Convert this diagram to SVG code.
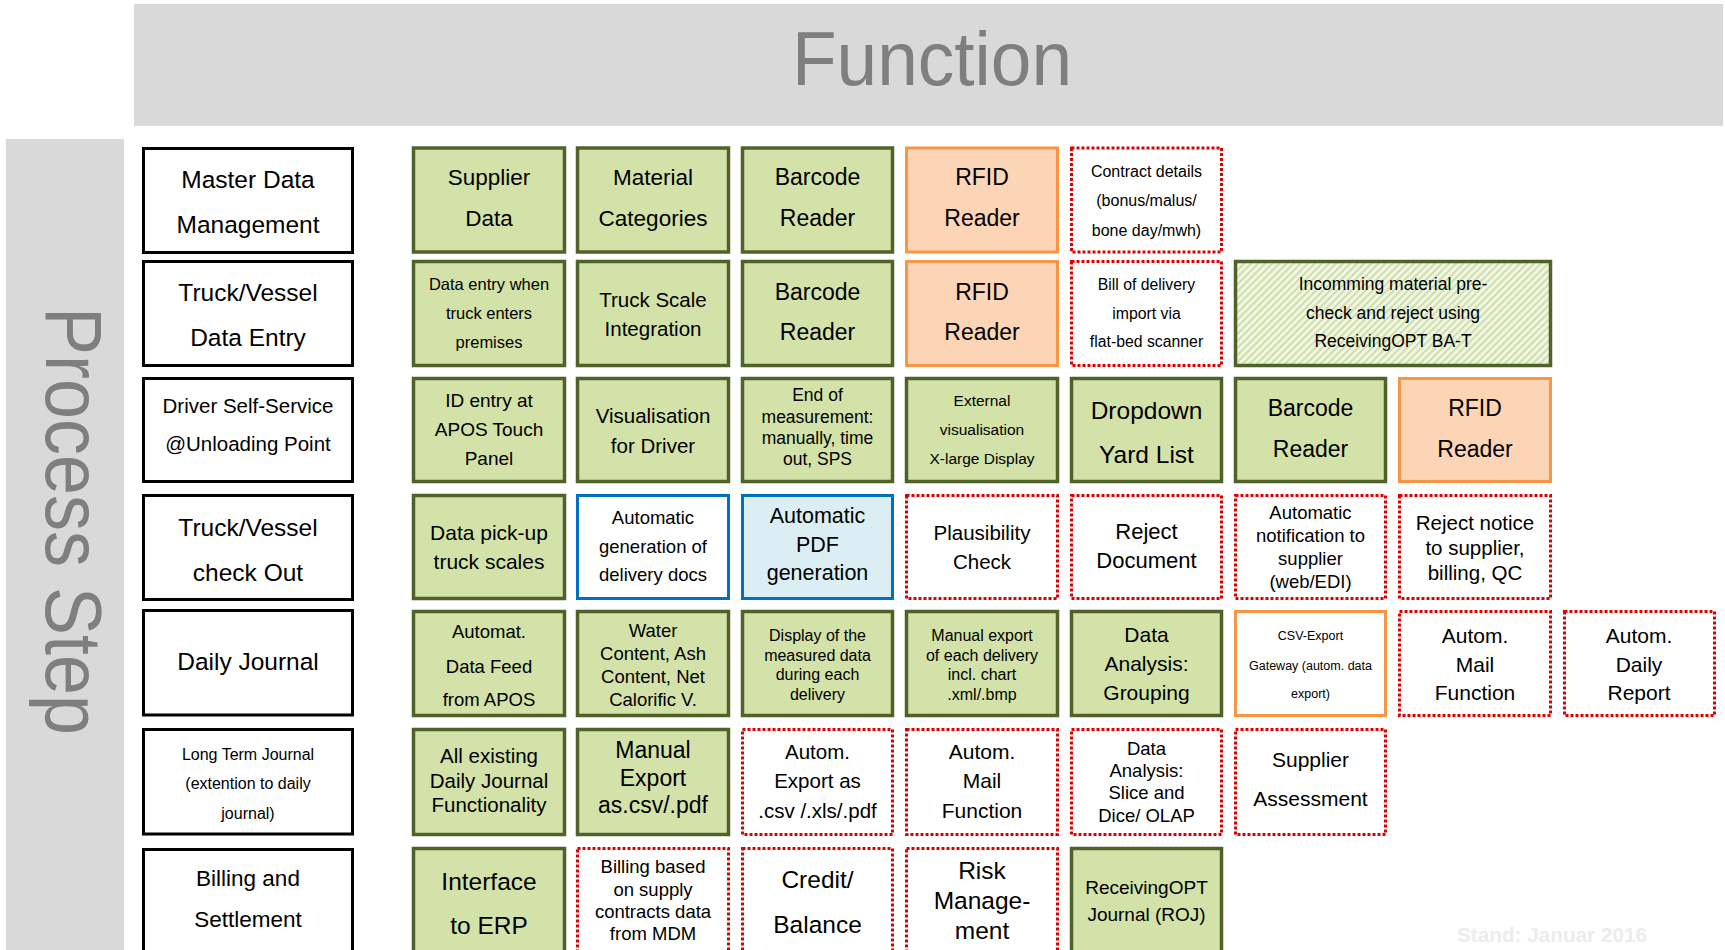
<svg xmlns="http://www.w3.org/2000/svg" width="1725" height="950" viewBox="0 0 1725 950">
<style>
.t{font-family:"Liberation Sans",Arial,sans-serif;text-anchor:middle;dominant-baseline:central;fill:#000}
.prc{fill:#fff;stroke:#000;stroke-width:3}
.grn{fill:#d3e2a9;stroke:#4f6228;stroke-width:3.5}
.org{fill:#fbd5b5;stroke:#f79646;stroke-width:3}
.orw{fill:#fff;stroke:#f79646;stroke-width:3}
.red{fill:#fff;stroke:#dc0000;stroke-width:3;stroke-dasharray:3 2}
.blw{fill:#fff;stroke:#0070c0;stroke-width:3}
.blu{fill:#daeef3;stroke:#0070c0;stroke-width:3}
.hat{fill:url(#hatch);stroke:#4f6228;stroke-width:3.5}
</style>
<defs>
<pattern id="hatch" width="5" height="5" patternUnits="userSpaceOnUse" patternTransform="rotate(45)">
<rect width="5" height="5" fill="#f1f6e2"/>
<line x1="1" y1="0" x2="1" y2="5" stroke="#c6d89f" stroke-width="1.6"/>
</pattern>
</defs>
<rect width="1725" height="950" fill="#fff"/>
<g id="header">
<rect x="134" y="4" width="1589" height="122" fill="#d9d9d9"/>
<text x="932" y="85" font-family="Liberation Sans, Arial, sans-serif" font-size="76" fill="#7f7f7f" text-anchor="middle" textLength="280" lengthAdjust="spacingAndGlyphs">Function</text>
</g>
<g id="sidebar">
<rect x="6" y="139" width="118" height="811" fill="#d9d9d9"/>
<text transform="translate(46,521) rotate(90)" font-family="Liberation Sans, Arial, sans-serif" font-size="80" fill="#7f7f7f" text-anchor="middle" textLength="428" lengthAdjust="spacingAndGlyphs">Process Step</text>
</g>

<g id="process-steps">
<g id="p1"><rect class="prc" x="143.5" y="148.5" width="209" height="104"/><text class="t" font-size="24.5"><tspan x="248" y="179">Master Data</tspan><tspan x="248" y="224">Management</tspan></text></g>
<g id="p2"><rect class="prc" x="143.5" y="261.5" width="209" height="104"/><text class="t" font-size="24.5"><tspan x="248" y="291.5">Truck/Vessel</tspan><tspan x="248" y="336.5">Data Entry</tspan></text></g>
<g id="p3"><rect class="prc" x="143.5" y="378.5" width="209" height="103"/><text class="t" font-size="20.5"><tspan x="248" y="405">Driver Self-Service</tspan><tspan x="248" y="443">@Unloading Point</tspan></text></g>
<g id="p4"><rect class="prc" x="143.5" y="495.5" width="209" height="104"/><text class="t" font-size="24.5"><tspan x="248" y="527">Truck/Vessel</tspan><tspan x="248" y="572">check Out</tspan></text></g>
<g id="p5"><rect class="prc" x="143.5" y="610.5" width="209" height="104.5"/><text class="t" font-size="24.5"><tspan x="248" y="661">Daily Journal</tspan></text></g>
<g id="p6"><rect class="prc" x="143.5" y="729.5" width="209" height="104.5"/><text class="t" font-size="16"><tspan x="248" y="753.5">Long Term Journal</tspan><tspan x="248" y="783">(extention to daily</tspan><tspan x="248" y="812.5">journal)</tspan></text></g>
<g id="p7"><rect class="prc" x="143.5" y="849.5" width="209" height="106"/><text class="t" font-size="22.5"><tspan x="248" y="878">Billing and</tspan><tspan x="248" y="918.5">Settlement</tspan></text></g>
</g>

<g id="functions">
<!-- Row 1 -->
<g id="r1c1"><rect class="grn" x="413.5" y="148" width="151" height="104"/><text class="t" font-size="22.5"><tspan x="489" y="177">Supplier</tspan><tspan x="489" y="218">Data</tspan></text></g>
<g id="r1c2"><rect class="grn" x="577.5" y="148" width="151" height="104"/><text class="t" font-size="22.5"><tspan x="653" y="177">Material</tspan><tspan x="653" y="218">Categories</tspan></text></g>
<g id="r1c3"><rect class="grn" x="742.5" y="148" width="150" height="104"/><text class="t" font-size="23"><tspan x="817.5" y="177">Barcode</tspan><tspan x="817.5" y="218">Reader</tspan></text></g>
<g id="r1c4"><rect class="org" x="906.5" y="148" width="151" height="104"/><text class="t" font-size="23"><tspan x="982" y="177">RFID</tspan><tspan x="982" y="218">Reader</tspan></text></g>
<g id="r1c5"><rect class="red" x="1071.5" y="148" width="150" height="104"/><text class="t" font-size="16"><tspan x="1146.5" y="170.5">Contract details</tspan><tspan x="1146.5" y="200">(bonus/malus/</tspan><tspan x="1146.5" y="229.5">bone day/mwh)</tspan></text></g>

<!-- Row 2 -->
<g id="r2c1"><rect class="grn" x="413.5" y="261.5" width="151" height="104"/><text class="t" font-size="16.5"><tspan x="489" y="284">Data entry when</tspan><tspan x="489" y="313">truck enters</tspan><tspan x="489" y="342">premises</tspan></text></g>
<g id="r2c2"><rect class="grn" x="577.5" y="261.5" width="151" height="104"/><text class="t" font-size="20.5"><tspan x="653" y="299">Truck Scale</tspan><tspan x="653" y="328">Integration</tspan></text></g>
<g id="r2c3"><rect class="grn" x="742.5" y="261.5" width="150" height="104"/><text class="t" font-size="23"><tspan x="817.5" y="291.5">Barcode</tspan><tspan x="817.5" y="332">Reader</tspan></text></g>
<g id="r2c4"><rect class="org" x="906.5" y="261.5" width="151" height="104"/><text class="t" font-size="23"><tspan x="982" y="291.5">RFID</tspan><tspan x="982" y="332">Reader</tspan></text></g>
<g id="r2c5"><rect class="red" x="1071.5" y="261.5" width="150" height="104"/><text class="t" font-size="15.8"><tspan x="1146.5" y="284">Bill of delivery</tspan><tspan x="1146.5" y="312.5">import via</tspan><tspan x="1146.5" y="341">flat-bed scanner</tspan></text></g>
<g id="r2c6"><rect class="hat" x="1235.5" y="261.5" width="315" height="104"/><text class="t" font-size="17.5"><tspan x="1393" y="284">Incomming material pre-</tspan><tspan x="1393" y="312.5">check and reject using</tspan><tspan x="1393" y="341">ReceivingOPT BA-T</tspan></text></g>

<!-- Row 3 -->
<g id="r3c1"><rect class="grn" x="413.5" y="378.5" width="151" height="103"/><text class="t" font-size="19"><tspan x="489" y="400">ID entry at</tspan><tspan x="489" y="429">APOS Touch</tspan><tspan x="489" y="457.5">Panel</tspan></text></g>
<g id="r3c2"><rect class="grn" x="577.5" y="378.5" width="151" height="103"/><text class="t" font-size="20.5"><tspan x="653" y="415">Visualisation</tspan><tspan x="653" y="444.5">for Driver</tspan></text></g>
<g id="r3c3"><rect class="grn" x="742.5" y="378.5" width="150" height="103"/><text class="t" font-size="17.5"><tspan x="817.5" y="395">End of</tspan><tspan x="817.5" y="416.5">measurement:</tspan><tspan x="817.5" y="438">manually, time</tspan><tspan x="817.5" y="459">out, SPS</tspan></text></g>
<g id="r3c4"><rect class="grn" x="906.5" y="378.5" width="151" height="103"/><text class="t" font-size="15.5"><tspan x="982" y="400">External</tspan><tspan x="982" y="429">visualisation</tspan><tspan x="982" y="457.5">X-large Display</tspan></text></g>
<g id="r3c5"><rect class="grn" x="1071.5" y="378.5" width="150" height="103"/><text class="t" font-size="24.5"><tspan x="1146.5" y="410">Dropdown</tspan><tspan x="1146.5" y="454">Yard List</tspan></text></g>
<g id="r3c6"><rect class="grn" x="1235.5" y="378.5" width="150" height="103"/><text class="t" font-size="23"><tspan x="1310.5" y="408">Barcode</tspan><tspan x="1310.5" y="449">Reader</tspan></text></g>
<g id="r3c7"><rect class="org" x="1399.5" y="378.5" width="151" height="103"/><text class="t" font-size="23"><tspan x="1475" y="408">RFID</tspan><tspan x="1475" y="449">Reader</tspan></text></g>

<!-- Row 4 -->
<g id="r4c1"><rect class="grn" x="413.5" y="495.5" width="151" height="103"/><text class="t" font-size="21"><tspan x="489" y="532">Data pick-up</tspan><tspan x="489" y="561">truck scales</tspan></text></g>
<g id="r4c2"><rect class="blw" x="577.5" y="495.5" width="151" height="103"/><text class="t" font-size="18.5"><tspan x="653" y="517">Automatic</tspan><tspan x="653" y="545.5">generation of</tspan><tspan x="653" y="574">delivery docs</tspan></text></g>
<g id="r4c3"><rect class="blu" x="742.5" y="495.5" width="150" height="103"/><text class="t" font-size="21.5"><tspan x="817.5" y="516">Automatic</tspan><tspan x="817.5" y="544.5">PDF</tspan><tspan x="817.5" y="573">generation</tspan></text></g>
<g id="r4c4"><rect class="red" x="906.5" y="495.5" width="151" height="103"/><text class="t" font-size="20.5"><tspan x="982" y="532">Plausibility</tspan><tspan x="982" y="561">Check</tspan></text></g>
<g id="r4c5"><rect class="red" x="1071.5" y="495.5" width="150" height="103"/><text class="t" font-size="22"><tspan x="1146.5" y="531">Reject</tspan><tspan x="1146.5" y="560">Document</tspan></text></g>
<g id="r4c6"><rect class="red" x="1235.5" y="495.5" width="150" height="103"/><text class="t" font-size="18.5"><tspan x="1310.5" y="511.5">Automatic</tspan><tspan x="1310.5" y="534.5">notification to</tspan><tspan x="1310.5" y="557.5">supplier</tspan><tspan x="1310.5" y="580.5">(web/EDI)</tspan></text></g>
<g id="r4c7"><rect class="red" x="1399.5" y="495.5" width="151" height="103"/><text class="t" font-size="20.5"><tspan x="1475" y="521.5">Reject notice</tspan><tspan x="1475" y="546.5">to supplier,</tspan><tspan x="1475" y="572">billing, QC</tspan></text></g>

<!-- Row 5 -->
<g id="r5c1"><rect class="grn" x="413.5" y="611.5" width="151" height="104"/><text class="t" font-size="18.5"><tspan x="489" y="631">Automat.</tspan><tspan x="489" y="665.5">Data Feed</tspan><tspan x="489" y="698.5">from APOS</tspan></text></g>
<g id="r5c2"><rect class="grn" x="577.5" y="611.5" width="151" height="104"/><text class="t" font-size="18.5"><tspan x="653" y="630">Water</tspan><tspan x="653" y="653">Content, Ash</tspan><tspan x="653" y="675.5">Content, Net</tspan><tspan x="653" y="698.5">Calorific V.</tspan></text></g>
<g id="r5c3"><rect class="grn" x="742.5" y="611.5" width="150" height="104"/><text class="t" font-size="16"><tspan x="817.5" y="634.5">Display of the</tspan><tspan x="817.5" y="654.5">measured data</tspan><tspan x="817.5" y="674">during each</tspan><tspan x="817.5" y="694">delivery</tspan></text></g>
<g id="r5c4"><rect class="grn" x="906.5" y="611.5" width="151" height="104"/><text class="t" font-size="16"><tspan x="982" y="634.5">Manual export</tspan><tspan x="982" y="654.5">of each delivery</tspan><tspan x="982" y="674">incl. chart</tspan><tspan x="982" y="694">.xml/.bmp</tspan></text></g>
<g id="r5c5"><rect class="grn" x="1071.5" y="611.5" width="150" height="104"/><text class="t" font-size="21"><tspan x="1146.5" y="633.5">Data</tspan><tspan x="1146.5" y="662.5">Analysis:</tspan><tspan x="1146.5" y="692">Grouping</tspan></text></g>
<g id="r5c6"><rect class="orw" x="1235.5" y="611.5" width="150" height="104"/><text class="t" font-size="12.5"><tspan x="1310.5" y="636">CSV-Export</tspan><tspan x="1310.5" y="665.5">Gateway (autom. data</tspan><tspan x="1310.5" y="694">export)</tspan></text></g>
<g id="r5c7"><rect class="red" x="1399.5" y="611.5" width="151" height="104"/><text class="t" font-size="21"><tspan x="1475" y="634.5">Autom.</tspan><tspan x="1475" y="663.5">Mail</tspan><tspan x="1475" y="692">Function</tspan></text></g>
<g id="r5c8"><rect class="red" x="1564.5" y="611.5" width="150" height="104"/><text class="t" font-size="21"><tspan x="1639" y="634.5">Autom.</tspan><tspan x="1639" y="663.5">Daily</tspan><tspan x="1639" y="692">Report</tspan></text></g>

<!-- Row 6 -->
<g id="r6c1"><rect class="grn" x="413.5" y="729.5" width="151" height="105"/><text class="t" font-size="20.5"><tspan x="489" y="754.5">All existing</tspan><tspan x="489" y="780">Daily Journal</tspan><tspan x="489" y="804">Functionality</tspan></text></g>
<g id="r6c2"><rect class="grn" x="577.5" y="729.5" width="151" height="105"/><text class="t" font-size="23"><tspan x="653" y="750">Manual</tspan><tspan x="653" y="777.5">Export</tspan><tspan x="653" y="805">as.csv/.pdf</tspan></text></g>
<g id="r6c3"><rect class="red" x="742.5" y="729.5" width="150" height="105"/><text class="t" font-size="20.5"><tspan x="817.5" y="751">Autom.</tspan><tspan x="817.5" y="780">Export as</tspan><tspan x="817.5" y="809.5">.csv /.xls/.pdf</tspan></text></g>
<g id="r6c4"><rect class="red" x="906.5" y="729.5" width="151" height="105"/><text class="t" font-size="21"><tspan x="982" y="751">Autom.</tspan><tspan x="982" y="780">Mail</tspan><tspan x="982" y="809.5">Function</tspan></text></g>
<g id="r6c5"><rect class="red" x="1071.5" y="729.5" width="150" height="105"/><text class="t" font-size="18.5"><tspan x="1146.5" y="748">Data</tspan><tspan x="1146.5" y="770">Analysis:</tspan><tspan x="1146.5" y="792">Slice and</tspan><tspan x="1146.5" y="815">Dice/ OLAP</tspan></text></g>
<g id="r6c6"><rect class="red" x="1235.5" y="729.5" width="150" height="105"/><text class="t" font-size="21"><tspan x="1310.5" y="759">Supplier</tspan><tspan x="1310.5" y="797.5">Assessment</tspan></text></g>

<!-- Row 7 -->
<g id="r7c1"><rect class="grn" x="413.5" y="848.5" width="151" height="106"/><text class="t" font-size="24.5"><tspan x="489" y="881">Interface</tspan><tspan x="489" y="925">to ERP</tspan></text></g>
<g id="r7c2"><rect class="red" x="577.5" y="848.5" width="151" height="106"/><text class="t" font-size="18.5"><tspan x="653" y="866">Billing based</tspan><tspan x="653" y="888.5">on supply</tspan><tspan x="653" y="911">contracts data</tspan><tspan x="653" y="933">from MDM</tspan></text></g>
<g id="r7c3"><rect class="red" x="742.5" y="848.5" width="150" height="106"/><text class="t" font-size="24.5"><tspan x="817.5" y="879">Credit/</tspan><tspan x="817.5" y="924">Balance</tspan></text></g>
<g id="r7c4"><rect class="red" x="906.5" y="848.5" width="151" height="106"/><text class="t" font-size="24.5"><tspan x="982" y="870">Risk</tspan><tspan x="982" y="900">Manage-</tspan><tspan x="982" y="929.5">ment</tspan></text></g>
<g id="r7c5"><rect class="grn" x="1071.5" y="848.5" width="150" height="106"/><text class="t" font-size="19"><tspan x="1146.5" y="886.5">ReceivingOPT</tspan><tspan x="1146.5" y="914">Journal (ROJ)</tspan></text></g>
</g>

<g id="connectors"/>

<text x="1552" y="942" font-family="Liberation Sans, Arial, sans-serif" font-weight="bold" font-size="21" fill="#ececec" text-anchor="middle" textLength="190" lengthAdjust="spacingAndGlyphs">Stand: Januar 2016</text>
</svg>
